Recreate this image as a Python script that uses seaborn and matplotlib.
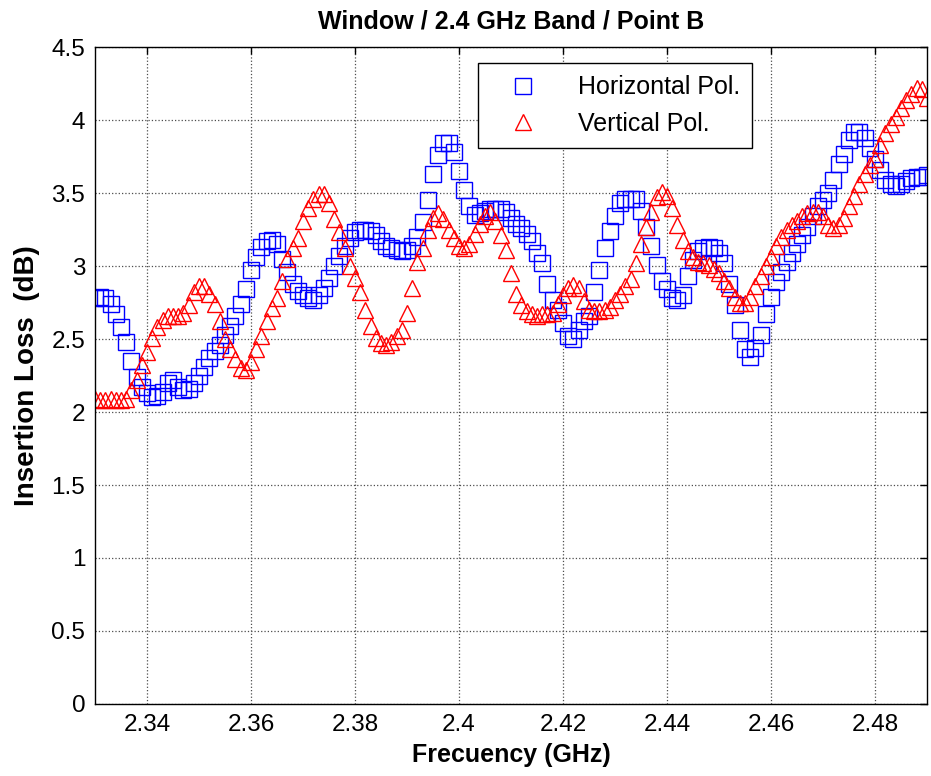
import matplotlib
matplotlib.use("Agg")
import matplotlib.pyplot as plt
import numpy as np
import pandas as pd
import seaborn as sns

# insertion loss, one point per MHz from 2.330 GHz
horizontal = [
    2.78, 2.79, 2.78, 2.74, 2.67, 2.58, 2.48, 2.35, 2.24, 2.17,
    2.13, 2.10, 2.11, 2.14, 2.20, 2.22, 2.17, 2.15, 2.16, 2.20,
    2.25, 2.31, 2.37, 2.42, 2.46, 2.53, 2.59, 2.66, 2.74, 2.84,
    2.97, 3.06, 3.13, 3.17, 3.18, 3.15, 3.05, 2.96, 2.88, 2.83,
    2.80, 2.78, 2.77, 2.80, 2.85, 2.92, 3.00, 3.07, 3.14, 3.19,
    3.23, 3.25, 3.25, 3.24, 3.21, 3.17, 3.14, 3.12, 3.11, 3.10,
    3.11, 3.14, 3.20, 3.30, 3.45, 3.63, 3.76, 3.84, 3.84, 3.78,
    3.65, 3.52, 3.41, 3.35, 3.36, 3.38, 3.39, 3.39, 3.39, 3.37,
    3.33, 3.29, 3.26, 3.22, 3.17, 3.09, 3.02, 2.88, 2.77, 2.70,
    2.61, 2.52, 2.50, 2.56, 2.62, 2.66, 2.82, 2.97, 3.12, 3.24,
    3.34, 3.43, 3.46, 3.46, 3.46, 3.38, 3.27, 3.14, 3.01, 2.90,
    2.84, 2.78, 2.77, 2.80, 2.93, 3.04, 3.10, 3.12, 3.13, 3.12,
    3.09, 3.02, 2.88, 2.73, 2.56, 2.43, 2.38, 2.44, 2.53, 2.67,
    2.79, 2.89, 2.96, 3.03, 3.09, 3.15, 3.21, 3.27, 3.34, 3.41,
    3.45, 3.50, 3.59, 3.70, 3.77, 3.86, 3.92, 3.92, 3.88, 3.81,
    3.73, 3.66, 3.59, 3.56, 3.55, 3.56, 3.58, 3.60, 3.61, 3.61, 3.62,
]
vertical = [
    2.09, 2.08, 2.08, 2.09, 2.08, 2.08, 2.09, 2.15, 2.22, 2.32,
    2.41, 2.51, 2.58, 2.63, 2.66, 2.66, 2.66, 2.68, 2.73, 2.82,
    2.86, 2.86, 2.81, 2.74, 2.62, 2.50, 2.43, 2.36, 2.30, 2.29,
    2.34, 2.43, 2.52, 2.62, 2.71, 2.78, 2.90, 3.05, 3.12, 3.19,
    3.31, 3.40, 3.46, 3.49, 3.49, 3.43, 3.32, 3.23, 3.12, 3.00,
    2.92, 2.82, 2.70, 2.59, 2.51, 2.47, 2.46, 2.48, 2.52, 2.56,
    2.68, 2.85, 3.03, 3.12, 3.25, 3.33, 3.36, 3.32, 3.25, 3.19,
    3.14, 3.12, 3.15, 3.22, 3.29, 3.34, 3.37, 3.31, 3.21, 3.11,
    2.95, 2.81, 2.73, 2.69, 2.67, 2.66, 2.67, 2.67, 2.68, 2.74,
    2.80, 2.85, 2.87, 2.85, 2.76, 2.70, 2.69, 2.69, 2.70, 2.72,
    2.77, 2.81, 2.86, 2.91, 3.02, 3.15, 3.27, 3.37, 3.47, 3.51,
    3.48, 3.40, 3.28, 3.18, 3.10, 3.06, 3.03, 3.02, 3.01, 2.98,
    2.95, 2.90, 2.85, 2.79, 2.75, 2.75, 2.79, 2.86, 2.93, 3.00,
    3.06, 3.14, 3.20, 3.25, 3.28, 3.31, 3.34, 3.36, 3.37, 3.37,
    3.34, 3.28, 3.26, 3.28, 3.33, 3.41, 3.48, 3.56, 3.63, 3.69,
    3.73, 3.83, 3.91, 3.97, 4.02, 4.08, 4.14, 4.18, 4.22, 4.21, 4.15,
]
freq = np.round(2.330 + 0.001 * np.arange(len(horizontal)), 3)

x_ticks = [2.34, 2.36, 2.38, 2.40, 2.42, 2.44, 2.46, 2.48]
x_tick_labels = ["2.34", "2.36", "2.38", "2.4", "2.42", "2.44", "2.46", "2.48"]
y_ticks = [0, 0.5, 1, 1.5, 2, 2.5, 3, 3.5, 4, 4.5]
y_tick_labels = ["0", "0.5", "1", "1.5", "2", "2.5", "3", "3.5", "4", "4.5"]

df = pd.DataFrame({"freq": freq, "horizontal": horizontal, "vertical": vertical})

sns.set_style("white")
plt.rcParams["font.family"] = ["Liberation Sans", "DejaVu Sans"]
plt.rcParams["text.color"] = "black"
plt.rcParams["axes.labelcolor"] = "black"
plt.rcParams["xtick.color"] = "black"
plt.rcParams["ytick.color"] = "black"

fig, ax = plt.subplots(figsize=(9.31, 7.76), dpi=100)
fig.subplots_adjust(left=0.102, right=0.9957, top=0.9394, bottom=0.0928)

sns.lineplot(data=df, x="freq", y="horizontal", ax=ax, errorbar=None,
             linestyle="", marker="s", markersize=11, mfc="none",
             mec="blue", mew=1.0, color="blue", label="Horizontal Pol.")
sns.lineplot(data=df, x="freq", y="vertical", ax=ax, errorbar=None,
             linestyle="", marker="^", markersize=12, mfc="none",
             mec="red", mew=1.0, color="red", label="Vertical Pol.")

ax.set_xlim(2.33, 2.49)
ax.set_ylim(0, 4.5)
ax.set_xticks(x_ticks)
ax.set_xticklabels(x_tick_labels)
ax.set_yticks(y_ticks)
ax.set_yticklabels(y_tick_labels)
ax.tick_params(direction="in", top=True, right=True, length=5, width=1,
               labelsize=17.5, pad=7, colors="black")
ax.grid(True, color="0.3", linestyle=":", linewidth=0.9)
for s in ax.spines.values():
    s.set_color("black")
    s.set_linewidth(1.0)

ax.set_title("Window / 2.4 GHz Band / Point B", fontsize=18, fontweight="bold", pad=13)
ax.set_xlabel("Frecuency (GHz)", fontsize=18, fontweight="bold", labelpad=5)
ax.set_ylabel("Insertion Loss  (dB)", fontsize=20, fontweight="bold", labelpad=8)

leg = ax.legend(loc="upper left", bbox_to_anchor=(0.460, 0.976), fontsize=18,
                frameon=True, fancybox=False, edgecolor="black", framealpha=1,
                borderpad=0.5, handlelength=2.6, handletextpad=0.9,
                labelspacing=0.5, borderaxespad=0)
leg.get_frame().set_linewidth(1.0)

fig.savefig("out.png", dpi=100)
